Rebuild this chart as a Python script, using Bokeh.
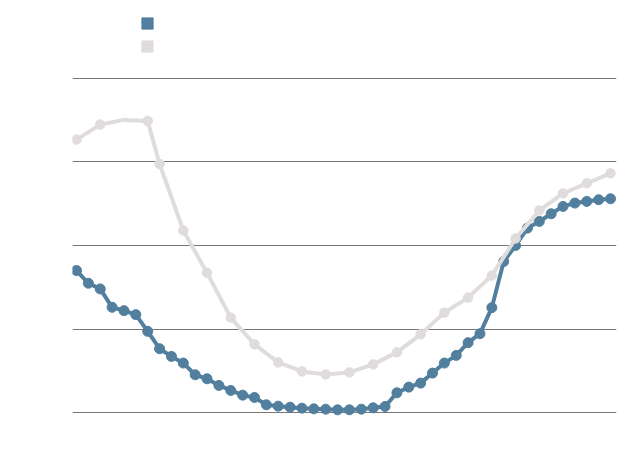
from bokeh.plotting import figure
from bokeh.models import Range1d, FixedTicker, Grid, Legend, LegendItem
from bokeh.core.properties import value
from bokeh.embed import file_html
from bokeh.resources import INLINE

# ---- data ----
blue_x = list(range(46))
blue_vals = [42.5, 38.7, 37.0, 31.5, 30.5, 29.3, 24.3, 19.1, 16.8, 14.8,
             11.3, 10.1, 8.1, 6.6, 5.2, 4.5, 2.3, 1.9, 1.6, 1.3,
             1.1, 1.0, 0.8, 0.8, 1.0, 1.4, 1.8, 5.9, 7.6, 8.8,
             11.8, 14.8, 17.1, 20.9, 23.6, 31.4, 45.2, 50.0, 55.2, 57.2,
             59.5, 61.7, 62.7, 63.2, 63.7, 64.0]

gray_x = [0, 2, 4, 6, 7, 9, 11, 13, 15, 17, 19, 21, 23, 25, 27, 29, 31, 33,
          35, 37, 39, 41, 43, 45]
gray_vals = [81.7, 86.2, 87.6, 87.3, 74.4, 54.5, 41.8, 28.4, 20.4, 15.0,
             12.3, 11.4, 12.0, 14.4, 18.0, 23.4, 29.9, 34.4, 41.0, 52.1,
             60.5, 65.6, 68.6, 71.6]
gray_has_marker = [True, True, False] + [True] * 21

grid_ticks = [0, 25, 50, 75, 100]

BLUE = "#527f9e"
GRAY = "#e1dcdc"

p = figure(width=636, height=474, output_backend="svg", toolbar_location=None,
           x_axis_location=None, y_axis_location=None,
           x_range=Range1d(-0.337, 45.505), y_range=Range1d(-18.56, 123.35),
           min_border_left=72, min_border_right=20, min_border_top=0,
           min_border_bottom=0)
p.outline_line_color = None
p.background_fill_color = "white"
p.border_fill_color = "white"
p.center = [r for r in p.center if not isinstance(r, Grid)]

g = Grid(dimension=1, ticker=FixedTicker(ticks=grid_ticks),
         grid_line_color="#777777", grid_line_width=1.2)
p.add_layout(g, "center")

# blue series
p.line(blue_x, blue_vals, line_color=BLUE, line_width=4)
p.scatter(blue_x, blue_vals, size=10, fill_color=BLUE, line_color=BLUE)

# gray series
p.line(gray_x, gray_vals, line_color=GRAY, line_width=4)
gmx = [x for x, m in zip(gray_x, gray_has_marker) if m]
gmy = [v for v, m in zip(gray_vals, gray_has_marker) if m]
p.scatter(gmx, gmy, size=9.5, fill_color=GRAY, line_color=GRAY)

# legend swatches
r1 = p.rect(x=[0], y=[-1000], width=0.1, height=0.1, fill_color=BLUE, line_color=BLUE)
r2 = p.rect(x=[0], y=[-1000], width=0.1, height=0.1, fill_color=GRAY, line_color=GRAY)
legend = Legend(items=[LegendItem(label=value(" "), renderers=[r1]),
                       LegendItem(label=value(" "), renderers=[r2])],
                location=(68, 421), glyph_width=14, glyph_height=14,
                label_height=14, label_width=0, label_standoff=0,
                padding=0, margin=0, spacing=9,
                border_line_alpha=0, background_fill_alpha=0,
                label_text_font_size="8px")
p.add_layout(legend, "center")

open("out.html", "w").write(file_html(p, INLINE))
